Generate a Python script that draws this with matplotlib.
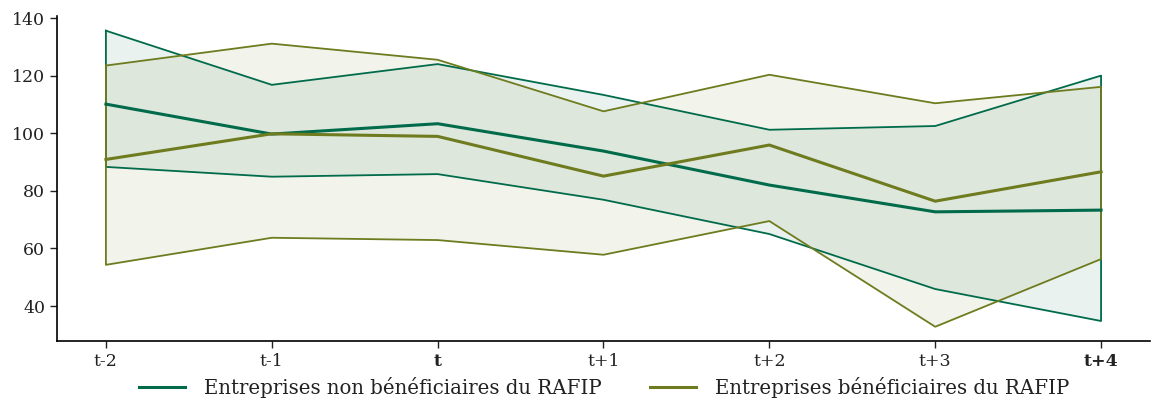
import numpy as np
import matplotlib.pyplot as plt

plt.rcParams['font.family'] = ['DejaVu Serif']

periodes = ['t-2', 't-1', 't', 't+1', 't+2', 't+3', 't+4']

# entreprises non beneficiaires
non_moy = [110.1, 99.7, 103.3, 93.8, 82.0, 72.7, 73.3]
non_haut = [135.6, 116.8, 124.0, 113.3, 101.2, 102.5, 120.0]
non_bas = [88.3, 84.9, 85.8, 76.9, 65.0, 45.9, 34.8]

# entreprises beneficiaires
ben_moy = [90.9, 99.8, 98.9, 85.1, 95.9, 76.4, 86.6]
ben_haut = [123.5, 131.1, 125.5, 107.6, 120.3, 110.4, 116.1]
ben_bas = [54.3, 63.7, 62.9, 57.8, 69.5, 32.8, 56.3]

vert = '#006B4B'
olive = '#6E7B1E'

x = np.arange(len(periodes))

fig = plt.figure(figsize=(11.56, 4.01), dpi=100)
ax = fig.add_axes([0.0493, 0.1496, 0.9455, 0.8105])

ax.fill_between(x, non_bas, non_haut, facecolor=vert, alpha=0.085, linewidth=0)
ax.fill_between(x, ben_bas, ben_haut, facecolor=olive, alpha=0.085, linewidth=0)
# contours des bandes
ax.plot(np.r_[x, x[::-1], x[0]], np.r_[non_haut, non_bas[::-1], non_haut[0]], color=vert, lw=1.3)
ax.plot(np.r_[x, x[::-1], x[0]], np.r_[ben_haut, ben_bas[::-1], ben_haut[0]], color=olive, lw=1.3)

ax.plot(x, non_moy, color=vert, lw=2.2, label='Entreprises non bénéficiaires du RAFIP')
ax.plot(x, ben_moy, color=olive, lw=2.2, label='Entreprises bénéficiaires du RAFIP')

ax.set_xlim(-0.295, 6.295)
ax.set_ylim(27.85, 140.7)
ax.set_yticks([40, 60, 80, 100, 120, 140])
ax.set_xticks(x)
ax.set_xticklabels(periodes)
for i in (2, 6):
    ax.get_xticklabels()[i].set_fontweight('bold')
ax.tick_params(labelsize=12.5, length=5, width=1, colors='#222222')
for s in ('top', 'right'):
    ax.spines[s].set_visible(False)
for s in ('left', 'bottom'):
    ax.spines[s].set_linewidth(1.2)

fig.legend(loc='center', bbox_to_anchor=(0.5225, 0.033), ncol=2, frameon=False,
           fontsize=14.2, handlelength=2.33, handletextpad=0.97, columnspacing=2.45,
           labelcolor='#222222')

fig.savefig('out.png', dpi=100)
